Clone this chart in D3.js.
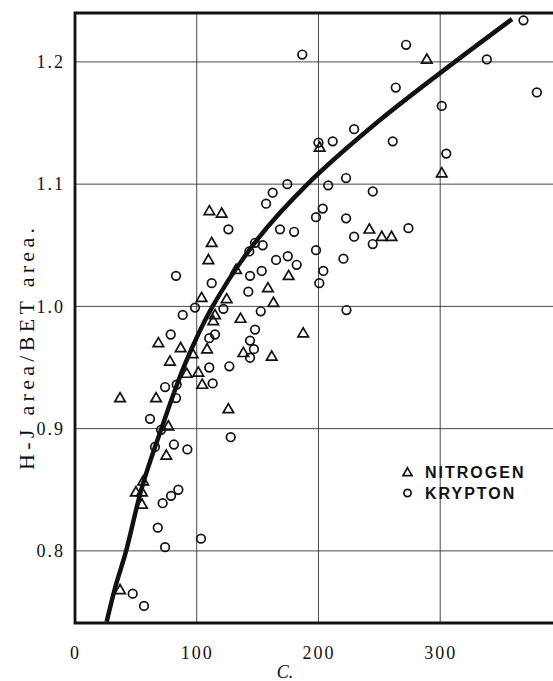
<!DOCTYPE html>
<html>
<head>
<meta charset="utf-8">
<script src="https://cdn.jsdelivr.net/npm/d3@7"></script>
<style>
  html, body { margin: 0; padding: 0; background: #fff; }
  svg { display: block; }
</style>
</head>
<body>
<div id="chart"></div>
<script>
// ---- data ----
const xTicks = [0, 100, 200, 300];
const yTicks = [0.8, 0.9, 1.0, 1.1, 1.2];
const xLabel = "C.";
const yLabel = "H-J area/BET area.";
const legendLabels = ["NITROGEN", "KRYPTON"];

// Nitrogen points [C, ratio]
const nitrogen = [
  [37,0.925],[37,0.768],[50,0.848],[55,0.848],[55,0.838],[56,0.857],[66.6,0.925],
  [68.5,0.970],[75,0.878],[76.7,0.902],[78,0.955],[86.8,0.966],[91.8,0.945],
  [96.7,0.961],[101.3,0.946],[104.5,0.936],[104,1.007],[108.5,0.965],[109.6,1.038],
  [110.4,1.078],[112.3,1.052],[113.6,0.988],[115,0.993],[120.5,1.076],[124.6,1.006],
  [126,0.916],[132.3,1.030],[136,0.990],[138.3,0.962],[158.5,1.015],[163,1.003],
  [161.6,0.959],[175.5,1.025],[187.5,0.978],[201,1.130],[241.8,1.063],[252,1.057],
  [260,1.057],[289,1.202],[301.3,1.109]
];

// Krypton points [C, ratio]
const krypton = [
  [47.4,0.765],[56.7,0.755],[61.6,0.908],[65.7,0.885],[68,0.819],[70.7,0.899],
  [72,0.839],[74,0.803],[74,0.934],[78.6,0.977],[78.9,0.845],[81.3,0.887],[83,0.925],
  [83.5,0.936],[83,1.025],[84.9,0.850],[88.5,0.993],[92.3,0.883],[98.6,0.999],
  [103.5,0.810],[110.3,0.974],[110.3,0.950],[112.3,1.019],[113.1,0.937],[115,0.977],
  [121.9,0.998],[126,1.063],[126.8,0.951],[127.9,0.893],[142.4,1.012],[143.2,1.045],
  [143.8,1.025],[143.8,0.972],[143.8,0.958],[147,0.965],[147.9,1.052],[147.9,0.981],
  [152.6,0.996],[153.4,1.029],[154.2,1.050],[157,1.084],[162.4,1.093],[165.2,1.038],
  [168.4,1.063],[174.4,1.100],[174.8,1.041],[180,1.061],[182.1,1.034],[186.7,1.206],
  [198,1.073],[198,1.046],[200,1.134],[200.7,1.019],[203.5,1.080],[204,1.029],
  [208,1.099],[211.7,1.135],[220.5,1.039],[222.7,1.105],[222.7,1.072],[223,0.997],
  [229.3,1.145],[229.3,1.057],[244.6,1.094],[244.6,1.051],[261,1.135],[263.5,1.179],
  [272,1.214],[273.9,1.064],[301.3,1.164],[305,1.125],[338.3,1.202],[368.4,1.234],
  [379.4,1.175]
];

// Fitted curve, points [C, ratio]
const curve = [
  [26,0.742],[33,0.77],[42,0.8],[55,0.852],[71,0.9],[90,0.952],[113,1.0],
  [150,1.055],[191,1.1],[250,1.152],[312,1.2],[359,1.235]
];

// ---- drawing ----
(function draw() {
  const W = 553, H = 681;
  const svg = d3.select("#chart").append("svg")
    .attr("width", W).attr("height", H)
    .attr("viewBox", `0 0 ${W} ${H}`);

  const mLeft = 75, mTop = 13, mBottom = 623;
  const x = d3.scaleLinear().domain([0, 400]).range([mLeft, mLeft + 400 * 1.2173]);
  const y = d3.scaleLinear().domain([0.741, 1.240]).range([mBottom, mTop]);
  const mRight = x(400);

  const ink = "#111";

  // grid
  const grid = svg.append("g").attr("stroke", "#333").attr("stroke-width", 0.9).attr("fill", "none");
  grid.selectAll("line.h").data(yTicks).join("line").attr("class", "h")
    .attr("x1", mLeft).attr("x2", mRight)
    .attr("y1", d => y(d)).attr("y2", d => y(d));
  grid.selectAll("line.v").data(xTicks.filter(d => d > 0)).join("line").attr("class", "v")
    .attr("x1", d => x(d)).attr("x2", d => x(d))
    .attr("y1", mTop).attr("y2", mBottom);

  // frame
  svg.append("path")
    .attr("d", `M${mRight},${mTop} L${mLeft},${mTop} L${mLeft},${mBottom} L${mRight},${mBottom}`)
    .attr("fill", "none").attr("stroke", ink).attr("stroke-width", 2.8);

  // axes
  const serif = "'Liberation Serif', 'DejaVu Serif', serif";
  const yAxis = svg.append("g").attr("transform", `translate(${mLeft},0)`)
    .call(d3.axisLeft(y).tickValues(yTicks).tickFormat(d3.format(".1f")).tickSize(0).tickPadding(10));
  yAxis.select(".domain").remove();
  yAxis.selectAll("text").attr("font-family", serif).attr("font-size", 18)
    .attr("letter-spacing", "2px").attr("fill", ink);

  const xAxis = svg.append("g").attr("transform", `translate(0,${mBottom})`)
    .call(d3.axisBottom(x).tickValues(xTicks).tickFormat(d3.format("d")).tickSize(0).tickPadding(23));
  xAxis.select(".domain").remove();
  xAxis.selectAll("text").attr("font-family", serif).attr("font-size", 18)
    .attr("letter-spacing", "2px").attr("fill", ink);

  svg.append("text").attr("x", 285).attr("y", 678)
    .attr("text-anchor", "middle").attr("font-family", serif).attr("font-style", "italic")
    .attr("font-size", 18).attr("fill", ink).text(xLabel);

  svg.append("text")
    .attr("transform", `translate(34,349) rotate(-90)`)
    .attr("text-anchor", "middle").attr("font-family", serif)
    .attr("font-size", 22).attr("textLength", 242).attr("lengthAdjust", "spacing")
    .attr("fill", ink).text(yLabel);

  // fitted curve
  const line = d3.line().x(d => x(d[0])).y(d => y(d[1])).curve(d3.curveCatmullRom);
  svg.append("path").datum(curve)
    .attr("d", line).attr("fill", "none").attr("stroke", ink)
    .attr("stroke-width", 4.5).attr("stroke-linecap", "butt");

  // markers
  const tri = (s) => { const h = s * Math.sqrt(3) / 2; return `M0,${-h*0.6}L${s/2},${h*0.4}L${-s/2},${h*0.4}Z`; };
  svg.append("g").selectAll("path").data(nitrogen).join("path")
    .attr("transform", d => `translate(${x(d[0])},${y(d[1])})`)
    .attr("d", tri(10.5)).attr("fill", "none").attr("stroke", ink).attr("stroke-width", 1.7)
    .attr("stroke-linejoin", "miter");
  svg.append("g").selectAll("circle").data(krypton).join("circle")
    .attr("cx", d => x(d[0])).attr("cy", d => y(d[1])).attr("r", 4.3)
    .attr("fill", "none").attr("stroke", ink).attr("stroke-width", 1.7);

  // legend
  const lg = svg.append("g");
  lg.append("path").attr("transform", "translate(407.5,472.5)").attr("d", tri(9))
    .attr("fill", "none").attr("stroke", ink).attr("stroke-width", 1.7);
  lg.append("circle").attr("cx", 407.5).attr("cy", 493).attr("r", 3.6)
    .attr("fill", "none").attr("stroke", ink).attr("stroke-width", 1.7);
  lg.selectAll("text").data(legendLabels).join("text")
    .attr("x", 425).attr("y", (d, i) => 477.5 + i * 21.5)
    .attr("font-family", "'Liberation Sans', Arial, sans-serif").attr("font-weight", "bold")
    .attr("font-size", 16).attr("letter-spacing", "2px").attr("fill", ink).text(d => d);
})();
</script>
</body>
</html>
